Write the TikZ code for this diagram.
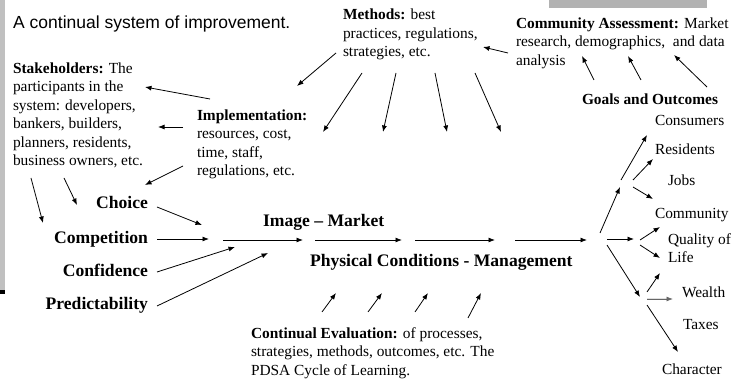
\documentclass[tikz,border=0pt]{standalone}
\usepackage{fontspec}
\setmainfont{Liberation Serif}
\newfontfamily\arialfont{Liberation Sans}
\usetikzlibrary{arrows.meta}
\definecolor{barGray}{RGB}{192,192,192}
\definecolor{boxGray}{RGB}{178,178,178}
\tikzset{
  txt/.style={inner sep=0pt, outer sep=0pt, font=\fontsize{15.4}{18.5}\selectfont, align=left},
  lbl/.style={inner sep=0pt, outer sep=0pt, font=\fontsize{17.6}{21}\selectfont\bfseries},
  arr/.style={line width=0.8pt, -{Latex[length=6.5pt,width=5pt]}},
}
\begin{document}
\begin{tikzpicture}[x=1pt,y=-1pt]
\useasboundingbox (0,0) rectangle (732,379);
% decorations
\fill[barGray] (0,0) rectangle (4.5,290);
\fill[black] (0,290) rectangle (4.5,294);
\fill[boxGray] (549,0) rectangle (707,8);
% texts
\node[anchor=base west, inner sep=0pt, font=\arialfont\fontsize{17.5}{21}\selectfont] (title) at (13,28.5) {A continual system of improvement.};
\node[txt, anchor=north west] (stake) at (13,62.5) {\textbf{Stakeholders:} The\\participants in the\\system: developers,\\bankers, builders,\\planners, residents,\\business owners, etc.};
\node[txt, anchor=north west] (impl) at (197,109.5) {\textbf{Implementation:}\\resources, cost,\\time, staff,\\regulations, etc.};
\node[txt, anchor=north west] (meth) at (343,9) {\textbf{Methods:} best\\practices, regulations,\\strategies, etc.};
\node[txt, anchor=north west] (comm) at (516,17.5) {\textbf{Community Assessment:} Market\\research, demographics,\ \ and data\\analysis};
\node[txt, anchor=north west] (eval) at (251,327.5) {\textbf{Continual Evaluation:} of processes,\\strategies, methods, outcomes, etc. The\\PDSA Cycle of Learning.};
\node[txt, anchor=base west, font=\fontsize{15.4}{18.5}\selectfont\bfseries] (goals) at (582,105) {Goals and Outcomes};
\node[txt, anchor=base west] (consumers) at (655,126) {Consumers};
\node[txt, anchor=base west] (residents) at (655,154.5) {Residents};
\node[txt, anchor=base west] (jobs) at (668,185.5) {Jobs};
\node[txt, anchor=base west] (community) at (655,218.3) {Community};
\node[txt, anchor=base west] (quality) at (668,245) {Quality of};
\node[txt, anchor=base west] (life) at (668,262.3) {Life};
\node[txt, anchor=base west] (wealth) at (682,297.3) {Wealth};
\node[txt, anchor=base west] (taxes) at (683,330) {Taxes};
\node[txt, anchor=base west] (character) at (662,375) {Character};
\node[lbl, anchor=base east] (choice) at (148,208.3) {Choice};
\node[lbl, anchor=base east] (competition) at (148,243.3) {Competition};
\node[lbl, anchor=base east] (confidence) at (148,276.7) {Confidence};
\node[lbl, anchor=base east] (predict) at (148,310) {Predictability};
\node[lbl, anchor=base west] (image) at (263,226.7) {Image -- Market};
\node[lbl, anchor=base west] (physical) at (310,266.7) {Physical Conditions - Management};
% arrow end points
\foreach \n/\x/\y in {
  s1/31/178, e1/43/223, s2/64/178, e2/77/205,
  s3/210/99, e3/145/87, s4/183/127, e4/158/127, s5/183/166, e5/145/185,
  s6/336/53, e6/297/86, s7/362/73, e7/323/132, s8/396/73, e8/383/132,
  s9/435/73, e9/447/132, s10/475/73, e10/501/132,
  s11/508/53, e11/483/47,
  s12/594/80, e12/582/56, s13/641/80, e13/628/56, s14/707/87, e14/674/55,
  s15/157/207, e15/202/225, s16/157/239, e16/209/239, s17/157/272, e17/235/247, s18/157/306, e18/268/253,
  s19/223/240, e19/303/240, s20/315/240, e20/402/240, s21/415/240, e21/495/240, s22/515/240, e22/587/240,
  s23/322/312, e23/336/293, s24/368/312, e24/382/293, s25/415/312, e25/428/293, s26/468/318, e26/481/293,
  s27/600/233, e27/620/187, s28/621/180, e28/647/135, s29/633/180, e29/653/159, s30/633/187, e30/653/199,
  s31/607/239, e31/634/239, s32/640/240, e32/660/227, s33/640/245, e33/660/258,
  s34/607/245, e34/640/297, s35/647/292, e35/660/273, s36/647/299, e36/673/299, s37/647/305, e37/678/352}
  {\coordinate (\n) at (\x,\y);}
\foreach \i in {1,...,35,37} {\draw[arr] (s\i) -- (e\i);}
\draw[arr, draw=black!60, fill=black] (s36) -- (e36);
\end{tikzpicture}
\end{document}
